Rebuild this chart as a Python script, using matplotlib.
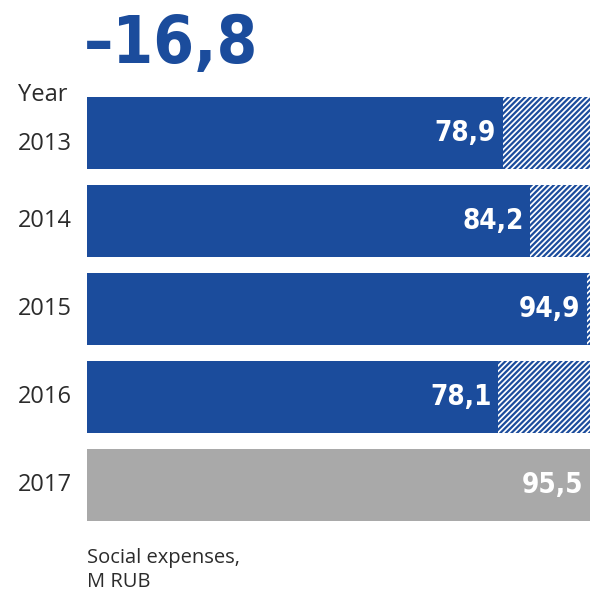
import matplotlib
matplotlib.use("Agg")
import matplotlib.pyplot as plt

# Social expenses by year, M RUB
years = ["2013", "2014", "2015", "2016", "2017"]
values = [78.9, 84.2, 94.9, 78.1, 95.5]
value_labels = ["78,9", "84,2", "94,9", "78,1", "95,5"]
headline = "\u201316,8"
year_title = "Year"
footnote = "Social expenses,\nM RUB"

BLUE = "#1b4c9c"
GREY = "#a9a9a9"
TEXT = "#2b2b2b"
NARROW = ["DejaVu Sans"]
REGULAR = ["Open Sans", "DejaVu Sans"]

plt.rcParams["hatch.linewidth"] = 1.6
plt.rcParams["hatch.color"] = BLUE

W, H = 597, 601
fig = plt.figure(figsize=(W / 100, H / 100), dpi=100)
fig.patch.set_facecolor("white")

# axes spanning the bar area
x0, x1 = 87, 590
y0, y1 = 97, 521
ax = fig.add_axes([x0 / W, 1 - y1 / H, (x1 - x0) / W, (y1 - y0) / H])
ax.axis("off")

ref = values[-1]
bar_h = 0.82
n = len(years)
pitch = (y1 - y0) / (n - 1 + bar_h)
ax.set_xlim(0, ref)
ax.set_ylim(n - 1 + bar_h / 2, -bar_h / 2)

for i, (yr, v, lab) in enumerate(zip(years, values, value_labels)):
    last = i == n - 1
    color = GREY if last else BLUE
    if not last and v < ref:
        ax.barh(i, ref - v, left=v, height=bar_h, facecolor="white",
                edgecolor=BLUE, hatch="//////", linewidth=0)
    ax.barh(i, v, height=bar_h, color=color, linewidth=0)
    ax.text(v - 1.2, i, lab, ha="right", va="center", color="white",
            fontsize=20, fontweight="bold", family=NARROW,
            fontstretch="condensed")
    # first year label sits a little lower, clear of the "Year" heading
    ypix = y0 + (i + bar_h / 2) * pitch + (11 if i == 0 else 0)
    fig.text(18 / W, 1 - ypix / H, yr, ha="left", va="center",
             color=TEXT, fontsize=17, family=REGULAR)

fig.text(18 / W, 1 - 95 / H, year_title, ha="left", va="center",
         color=TEXT, fontsize=17, family=REGULAR)
fig.text(84 / W, 1 - 45 / H, headline, ha="left", va="center",
         color=BLUE, fontsize=47, fontweight="bold", family=NARROW,
         fontstretch="condensed")
fig.text(87 / W, 1 - 570 / H, footnote, ha="left", va="center",
         color=TEXT, fontsize=14.5, family=REGULAR, linespacing=1.25)

fig.savefig("out.png", dpi=100)
